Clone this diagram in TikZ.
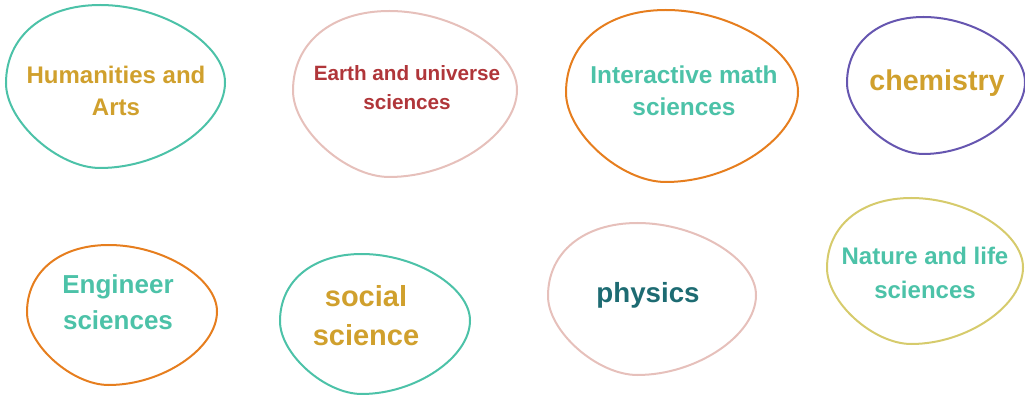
\documentclass[tikz,border=0pt]{standalone}
\usepackage{fontspec}
\setmainfont{Liberation Sans}
\definecolor{cteal}{HTML}{4CC2A8}
\definecolor{cpink}{HTML}{E6C0BB}
\definecolor{corange}{HTML}{E67E1E}
\definecolor{cpurple}{HTML}{6656B0}
\definecolor{cyellow}{HTML}{D6CB6C}
\definecolor{cgold}{HTML}{D0A02D}
\definecolor{cred}{HTML}{B0363A}
\definecolor{cdteal}{HTML}{1D6B72}
\tikzset{
  blobline/.style={line width=2pt},
  lbl/.style={align=center, inner sep=0pt},
}
\newcommand\drawblob[5]{%
  \draw[blobline, draw=#5, shift={(#1,#2)}, xscale=#3, yscale=#4]
    (-0.14,-1) .. controls (0.43,-1) and (1,-0.525) .. (1,-0.05)
    .. controls (1,0.475) and (0.43,1) .. (-0.14,1)
    .. controls (-0.527,1) and (-1,0.428) .. (-1,-0.04)
    .. controls (-1,-0.616) and (-0.656,-1) .. (-0.14,-1) -- cycle;}
\newcommand\fs[2]{\bfseries\fontsize{#1}{#2}\selectfont}
\begin{document}
\begin{tikzpicture}[x=1pt,y=-1pt]
\useasboundingbox (0,0) rectangle (1025,395);
\drawblob{115.5}{86.5}{109.5}{81.5}{cteal}
\drawblob{405}{94}{112}{83}{cpink}
\drawblob{682}{96}{116}{86}{corange}
\drawblob{936}{85.5}{89}{68.5}{cpurple}
\drawblob{122}{315}{95}{70}{corange}
\drawblob{375}{324}{95}{70}{cteal}
\drawblob{652}{299}{104}{76}{cpink}
\drawblob{925}{271}{98}{73}{cyellow}
\node[lbl, text=cgold, font=\fs{24}{32}] (hum) at (116,91) {Humanities and\\Arts};
\node[lbl, text=cred, font=\fs{20.7}{29}] (earth) at (407,87.5) {Earth and universe\\sciences};
\node[lbl, text=cteal, font=\fs{24.4}{32}] (math) at (684,91) {Interactive math\\sciences};
\node[lbl, text=cgold, font=\fs{28.6}{34}] (chem) at (937,83) {chemistry};
\node[lbl, text=cteal, font=\fs{26}{36}] (eng) at (118,302) {Engineer\\sciences};
\node[lbl, text=cgold, font=\fs{29}{39}] (soc) at (366,316) {social\\science};
\node[lbl, text=cdteal, font=\fs{27.7}{34}] (phys) at (648,295) {physics};
\node[lbl, text=cteal, font=\fs{24}{34}] (nat) at (925,273) {Nature and life\\sciences};
\end{tikzpicture}
\end{document}
